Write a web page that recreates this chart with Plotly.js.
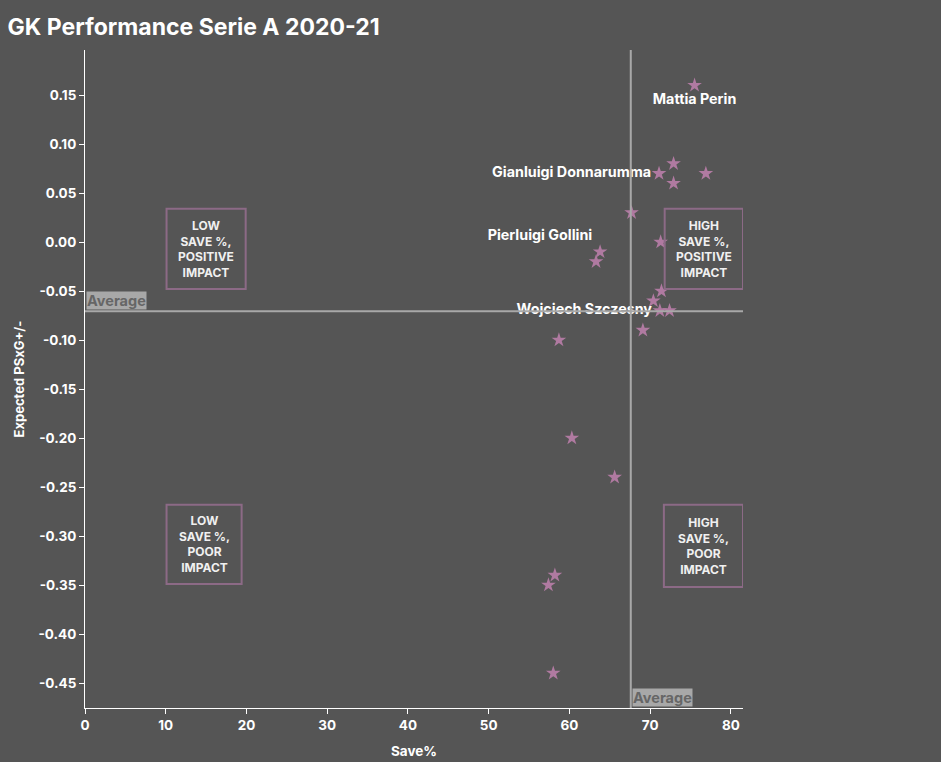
<!DOCTYPE html>
<html>
<head>
<meta charset="utf-8">
<script src="https://cdn.plot.ly/plotly-3.0.1.min.js"></script>
<style>html,body{margin:0;padding:0;background:#555555;}#chart{width:941px;height:762px;}</style>
</head>
<body>
<div id="chart"></div>
<script>
// Data
const savePct = [75.5, 72.9, 71.1, 76.9, 72.9, 67.7, 71.3, 63.8, 63.3, 71.4, 70.4, 71.2, 72.4, 69.1, 58.7, 60.3, 65.6, 58.2, 57.4, 58.0];
const psxg    = [0.16, 0.08, 0.07, 0.07, 0.06, 0.03, 0.00, -0.01, -0.02, -0.05, -0.06, -0.07, -0.07, -0.09, -0.10, -0.20, -0.24, -0.34, -0.35, -0.44];
const names   = ["Mattia Perin", "", "Gianluigi Donnarumma", "", "", "", "", "Pierluigi Gollini", "", "", "", "Wojciech Szczesny", "", "", "", "", "", "", "", ""];
const avgSave = 67.6;
const avgPsxg = -0.0705;
const yTickVals = [0.15, 0.10, 0.05, 0.00, -0.05, -0.10, -0.15, -0.20, -0.25, -0.30, -0.35, -0.40, -0.45];
const yTickText = ["0.15", "0.10", "0.05", "0.00", "-0.05", "-0.10", "-0.15", "-0.20", "-0.25", "-0.30", "-0.35", "-0.40", "-0.45"];
const quadrantLabels = ["LOW<br>SAVE %,<br>POSITIVE<br>IMPACT", "HIGH<br>SAVE %,<br>POSITIVE<br>IMPACT", "LOW<br>SAVE %,<br>POOR<br>IMPACT", "HIGH<br>SAVE %,<br>POOR<br>IMPACT"];

const FONT = 'Inter, "Open Sans", sans-serif';
const posMap = {"Mattia Perin": "bottom center", "Gianluigi Donnarumma": "middle left", "Pierluigi Gollini": "top left", "Wojciech Szczesny": "middle left"};
const textPositions = names.map(n => posMap[n] || "middle center");

const trace = {
  x: savePct, y: psxg, text: names,
  mode: 'markers+text', type: 'scatter',
  textposition: textPositions,
  textfont: {family: FONT, size: 14.3, color: '#ffffff', weight: 700},
  marker: {symbol: 'star', size: 11, color: '#b07aa1'},
  hoverinfo: 'x+y+text', cliponaxis: false
};

// quadrant box geometry in data coords
const boxes = [
  {x0: 10.1, x1: 19.9, y0: 0.034, y1: -0.048},
  {x0: 71.8, x1: 81.5, y0: 0.034, y1: -0.048},
  {x0: 10.1, x1: 19.4, y0: -0.268, y1: -0.349},
  {x0: 71.7, x1: 81.5, y0: -0.268, y1: -0.352}
];
const shapes = [
  {type: 'line', xref: 'x', yref: 'paper', x0: avgSave, x1: avgSave, y0: 0, y1: 1, line: {color: '#a8a8a8', width: 2}},
  {type: 'line', xref: 'paper', yref: 'y', x0: 0, x1: 1, y0: avgPsxg, y1: avgPsxg, line: {color: '#a8a8a8', width: 2}}
];
const annotations = [];
boxes.forEach((b, i) => {
  shapes.push({type: 'rect', xref: 'x', yref: 'y', x0: b.x0, x1: b.x1, y0: b.y0, y1: b.y1, line: {color: '#8c6a86', width: 2}});
  annotations.push({xref: 'x', yref: 'y', x: (b.x0 + b.x1) / 2, y: (b.y0 + b.y1) / 2, text: quadrantLabels[i], showarrow: false,
    font: {family: FONT, size: 12, color: '#f0f0f0', weight: 700}, align: 'center'});
});
annotations.push({xref: 'paper', yref: 'y', x: 0.002, y: avgPsxg, xanchor: 'left', yanchor: 'bottom', yshift: 1, text: 'Average', showarrow: false,
  bgcolor: '#a8a8a8', font: {family: FONT, size: 14.5, color: '#666666', weight: 700}, borderpad: 0});
annotations.push({xref: 'x', yref: 'paper', x: avgSave, y: 0.002, xanchor: 'left', yanchor: 'bottom', xshift: 1, text: 'Average', showarrow: false,
  bgcolor: '#a8a8a8', font: {family: FONT, size: 14.5, color: '#666666', weight: 700}, borderpad: 0});

const layout = {
  width: 941, height: 762,
  paper_bgcolor: '#555555', plot_bgcolor: '#555555',
  margin: {l: 85, r: 198, t: 50, b: 54},
  showlegend: false,
  font: {family: FONT, color: '#ffffff'},
  title: {text: 'GK Performance Serie A 2020-21', x: 0.008, xanchor: 'left', y: 0.965, yanchor: 'middle',
    font: {family: FONT, size: 23, color: '#ffffff', weight: 700}},
  xaxis: {range: [0, 81.5], dtick: 10, showgrid: false, zeroline: false, showline: true, linecolor: '#ffffff', linewidth: 1,
    ticks: 'outside', ticklen: 5, tickcolor: '#ffffff', tickfont: {family: FONT, size: 13.5, color: '#ffffff', weight: 700},
    title: {text: 'Save%', standoff: 14, font: {family: FONT, size: 13.5, color: '#ffffff', weight: 700}}},
  yaxis: {range: [-0.4755, 0.196], tickmode: 'array', tickvals: yTickVals, ticktext: yTickText, showgrid: false, zeroline: false, showline: true, linecolor: '#ffffff', linewidth: 1,
    ticks: 'outside', ticklen: 5, tickcolor: '#ffffff', tickfont: {family: FONT, size: 13.5, color: '#ffffff', weight: 700},
    title: {text: 'Expected PSxG+/-', standoff: 10, font: {family: FONT, size: 13, color: '#ffffff', weight: 700}}},
  shapes: shapes, annotations: annotations
};
Plotly.newPlot('chart', [trace], layout, {displayModeBar: false});
</script>
</body>
</html>
